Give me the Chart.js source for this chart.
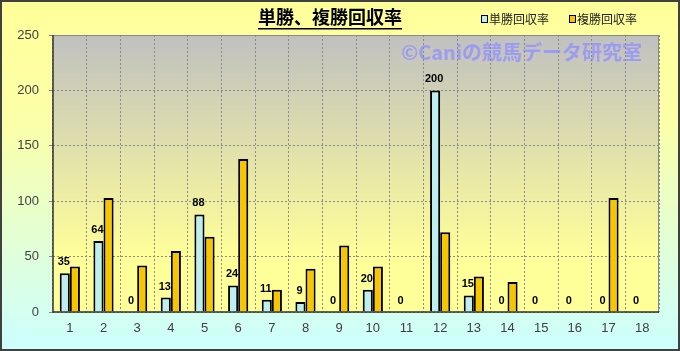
<!DOCTYPE html>
<html><head><meta charset="utf-8">
<script src="https://cdn.jsdelivr.net/npm/chart.js@4.4.0/dist/chart.umd.min.js"></script>
<style>html,body{margin:0;padding:0;background:#fff}canvas{display:block}</style>
</head><body>
<canvas id="c" width="680" height="351"></canvas>
<script>
const categories = ['1','2','3','4','5','6','7','8','9','10','11','12','13','14','15','16','17','18'];
const winReturn = [35,64,0,13,88,24,11,9,0,20,0,200,15,0,0,0,0,0];
const placeReturn = [41,103,42,55,68,138,20,39,60,41,0,72,32,27,0,0,103,0];
const yTicks = [0,50,100,150,200,250];
const titleText = '単勝、複勝回収率';
const seriesNames = ['単勝回収率','複勝回収率'];
const watermark = '©Caniの競馬データ研究室';

const numFont = '"Liberation Sans", Arial, sans-serif';
const jpFont = '"Noto Sans CJK JP", sans-serif';
const blue = '#bdeef2', gold = '#f7c600';

const decor = {
  id: 'decor',
  beforeDraw(chart) {
    const ctx = chart.ctx, W = chart.width, H = chart.height, a = chart.chartArea;
    ctx.save();
    let g = ctx.createLinearGradient(0, 0, 0, H);
    g.addColorStop(0, '#ffff99'); g.addColorStop(0.35, '#fbffa8'); g.addColorStop(1, '#ccffff');
    ctx.fillStyle = g; ctx.fillRect(0, 0, W, H);
    g = ctx.createLinearGradient(0, a.top, 0, a.bottom);
    g.addColorStop(0, '#c0c0c0'); g.addColorStop(0.8, '#ffff99'); g.addColorStop(1, '#ffff99');
    ctx.fillStyle = g; ctx.fillRect(a.left, a.top, a.right - a.left, a.bottom - a.top);
    // watermark
    ctx.font = 'bold 20px ' + jpFont;
    ctx.fillStyle = 'rgba(145,145,255,0.8)';
    ctx.textBaseline = 'alphabetic'; ctx.textAlign = 'right';
    ctx.fillText(watermark, 642, 60);
    // title
    ctx.font = 'bold 18px ' + jpFont;
    ctx.fillStyle = '#000'; ctx.textAlign = 'center'; ctx.textBaseline = 'middle';
    ctx.fillText(titleText, 330, 17);
    const tw = ctx.measureText(titleText).width;
    ctx.fillRect(330 - tw / 2, 28, tw, 1.5);
    // legend
    ctx.font = '12px ' + jpFont; ctx.textAlign = 'left';
    const items = [[481, blue], [569, gold]];
    items.forEach((it, i) => {
      ctx.fillStyle = it[1]; ctx.fillRect(it[0], 15, 6, 7);
      ctx.strokeStyle = '#000'; ctx.lineWidth = 1; ctx.strokeRect(it[0] + 0.5, 15.5, 6, 7);
      ctx.fillStyle = '#222'; ctx.fillText(seriesNames[i], it[0] + 8, 19);
    });
    ctx.restore();
  },
  afterDraw(chart) {
    const ctx = chart.ctx, a = chart.chartArea;
    ctx.save();
    ctx.strokeStyle = '#888'; ctx.lineWidth = 1;
    ctx.beginPath(); ctx.moveTo(a.left, a.top + 0.5); ctx.lineTo(a.right - 0.5, a.top + 0.5); ctx.lineTo(a.right - 0.5, a.bottom); ctx.stroke();
    ctx.strokeStyle = '#333'; ctx.lineWidth = 1.5;
    ctx.beginPath(); ctx.moveTo(a.left, a.top); ctx.lineTo(a.left, a.bottom); ctx.lineTo(a.right, a.bottom); ctx.stroke();
    // data labels for win series
    const meta = chart.getDatasetMeta(0);
    ctx.font = 'bold 11px ' + numFont; ctx.fillStyle = '#000';
    ctx.textAlign = 'center'; ctx.textBaseline = 'alphabetic';
    meta.data.forEach((el, i) => { ctx.fillText(String(winReturn[i]), el.x - 1, el.y - 8); });
    // outer border
    ctx.strokeStyle = '#404040'; ctx.lineWidth = 2;
    ctx.strokeRect(1, 1, chart.width - 2, chart.height - 2);
    ctx.restore();
  }
};

new Chart(document.getElementById('c'), {
  type: 'bar',
  data: {
    labels: categories,
    datasets: [
      { label: seriesNames[0], data: winReturn, backgroundColor: blue, borderColor: '#000', borderWidth: 2, borderSkipped: 'bottom' },
      { label: seriesNames[1], data: placeReturn, backgroundColor: gold, borderColor: '#000', borderWidth: 2, borderSkipped: 'bottom' }
    ]
  },
  options: {
    responsive: false, animation: false,
    devicePixelRatio: 1,
    layout: { padding: { left: 0, right: 21, top: 35, bottom: 0 } },
    datasets: { bar: { categoryPercentage: 0.6, barPercentage: 1.0 } },
    plugins: { legend: { display: false }, title: { display: false }, tooltip: { enabled: false } },
    scales: {
      x: {
        grid: { color: '#8a8a8a', lineWidth: 1, drawTicks: false, offset: true },
        border: { display: false, dash: [2, 2] },
        ticks: { color: '#404040', font: { family: numFont, size: 13 }, padding: 9 },
        afterFit(s) { s.height = 39; }
      },
      y: {
        min: 0, max: 250,
        afterBuildTicks(s) { s.ticks = yTicks.map(v => ({ value: v })); },
        grid: { color: '#8a8a8a', lineWidth: 1, tickLength: 4 },
        border: { display: false, dash: [2, 2] },
        ticks: { color: '#404040', font: { family: numFont, size: 13 }, padding: 10 },
        afterFit(s) { s.width = 53; }
      }
    }
  },
  plugins: [decor]
});
</script>
</body></html>
